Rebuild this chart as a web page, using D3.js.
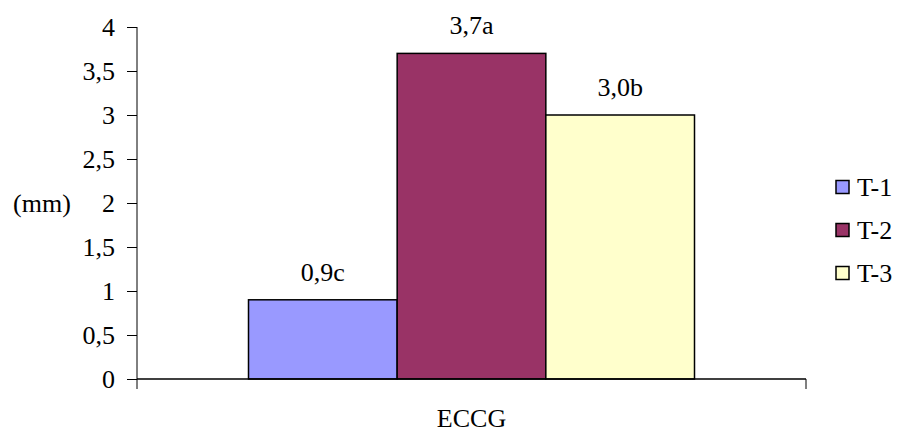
<!DOCTYPE html>
<html>
<head>
<meta charset="utf-8">
<script src="https://cdn.jsdelivr.net/npm/d3@7"></script>
</head>
<body style="margin:0;background:#fff">
<svg id="chart" width="908" height="439" style="display:block"></svg>
<script>
// Chart data
const category = "ECCG";
const seriesNames = ["T-1", "T-2", "T-3"];
const seriesValues = [0.9, 3.7, 3.0];
const valueLabels = ["0,9c", "3,7a", "3,0b"];
const seriesColors = ["#9999ff", "#993366", "#ffffcc"];
const yTicks = [0, 0.5, 1, 1.5, 2, 2.5, 3, 3.5, 4];
const yTitle = "(mm)";

const FONT = "Liberation Serif";
const FS = 26;

const svg = d3.select("#chart");
const plot = { left: 137, right: 806, top: 27, bottom: 379 };

const y = d3.scaleLinear().domain([0, 4]).range([plot.bottom, plot.top]);

// One category band; bars sit inside it with a 150% gap width
const xCat = d3.scaleBand().domain([category]).range([plot.left, plot.right])
  .paddingInner(0).paddingOuter(0);
const groupW = xCat.bandwidth();
const barW = groupW / (seriesNames.length + 1.5);
const xSeries = d3.scaleBand().domain(seriesNames)
  .range([xCat(category) + barW * 0.75, xCat(category) + groupW - barW * 0.75])
  .padding(0);

const fmt = d => String(d).replace(".", ",");

// Y axis
const yAxis = d3.axisLeft(y).tickValues(yTicks).tickFormat(fmt).tickSize(10).tickPadding(12);
const gy = svg.append("g").attr("transform", `translate(${plot.left},0)`).call(yAxis);
gy.attr("font-family", null).attr("font-size", null);
gy.select(".domain").remove();
gy.selectAll(".tick line").attr("stroke", "#000").attr("stroke-width", 1);
gy.selectAll(".tick text")
  .attr("fill", "#000")
  .attr("font-family", FONT)
  .attr("font-size", FS);
svg.append("line")
  .attr("x1", plot.left).attr("x2", plot.left)
  .attr("y1", plot.top).attr("y2", plot.bottom + 10)
  .attr("stroke", "#000").attr("stroke-width", 1);

// Bars
svg.append("g").selectAll("rect")
  .data(seriesValues)
  .join("rect")
  .attr("x", (d, i) => xSeries(seriesNames[i]))
  .attr("width", xSeries.bandwidth())
  .attr("y", d => y(d))
  .attr("height", d => y(0) - y(d))
  .attr("fill", (d, i) => seriesColors[i])
  .attr("stroke", "#000")
  .attr("stroke-width", 1.5);

// X axis line with category boundary tick
svg.append("line")
  .attr("x1", plot.left).attr("x2", plot.right)
  .attr("y1", y(0)).attr("y2", y(0))
  .attr("stroke", "#000").attr("stroke-width", 1.5);
svg.append("line")
  .attr("x1", plot.right).attr("x2", plot.right)
  .attr("y1", y(0)).attr("y2", y(0) + 10)
  .attr("stroke", "#000").attr("stroke-width", 1);

// Value labels
svg.append("g").selectAll("text")
  .data(seriesValues)
  .join("text")
  .attr("x", (d, i) => xSeries(seriesNames[i]) + xSeries.bandwidth() / 2)
  .attr("y", d => y(d) - 19)
  .attr("text-anchor", "middle")
  .attr("font-family", FONT)
  .attr("font-size", FS)
  .attr("fill", "#000")
  .text((d, i) => valueLabels[i]);

// Category label
svg.append("text")
  .attr("x", xCat(category) + groupW / 2)
  .attr("y", 427)
  .attr("text-anchor", "middle")
  .attr("font-family", FONT)
  .attr("font-size", FS)
  .attr("fill", "#000")
  .text(category);

// Y title
svg.append("text")
  .attr("x", 42)
  .attr("y", y(2) + 8.5)
  .attr("text-anchor", "middle")
  .attr("font-family", FONT)
  .attr("font-size", FS)
  .attr("fill", "#000")
  .text(yTitle);

// Legend
const legend = svg.append("g").attr("transform", "translate(836,0)");
const rowY = [187, 230, 273];
seriesNames.forEach((name, i) => {
  legend.append("rect")
    .attr("x", 0).attr("y", rowY[i] - 6.5)
    .attr("width", 13).attr("height", 13)
    .attr("fill", seriesColors[i])
    .attr("stroke", "#000").attr("stroke-width", 1.5);
  legend.append("text")
    .attr("x", 21).attr("y", rowY[i] + 9)
    .attr("font-family", FONT)
    .attr("font-size", FS)
    .attr("fill", "#000")
    .text(name);
});
</script>
</body>
</html>
